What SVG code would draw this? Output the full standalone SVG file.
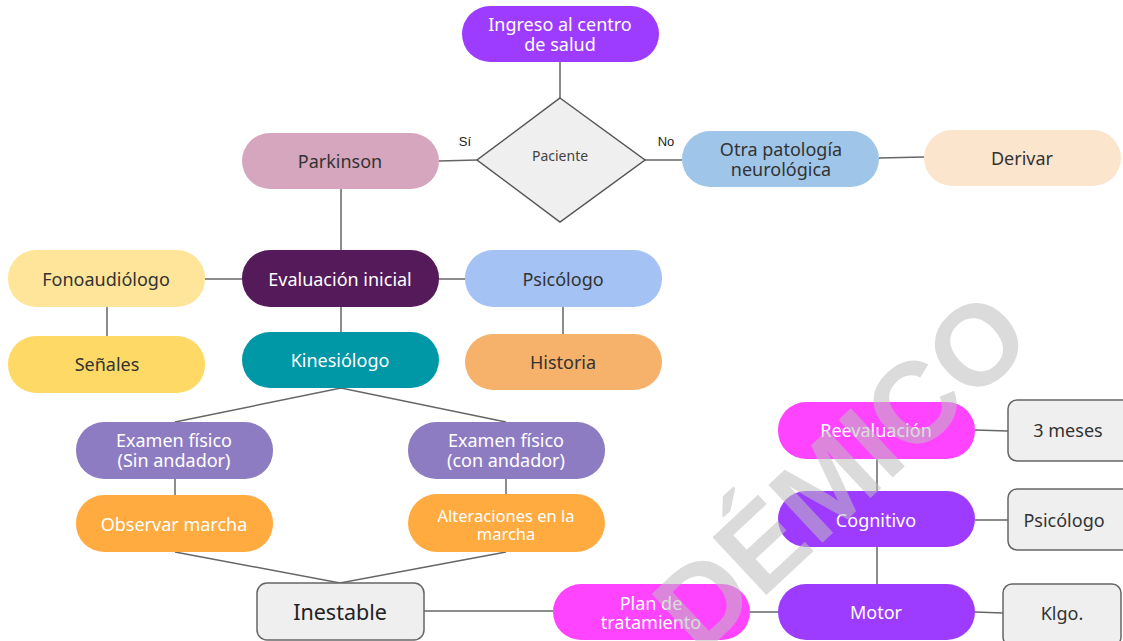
<svg xmlns="http://www.w3.org/2000/svg" width="1123" height="641" viewBox="0 0 1123 641">
<style>
text{font-family:"Noto Sans","Open Sans",sans-serif;text-anchor:middle;dominant-baseline:central}
.l{stroke:#666;stroke-width:1.5;fill:none}
.w{fill:#fff;font-size:18px}
.d{fill:#333;font-size:18px}
.box{fill:#efefef;stroke:#666;stroke-width:1.5}
.lab{font-family:"Liberation Sans",Arial,sans-serif;font-size:13px;fill:#222}
.wm{font-family:"Liberation Sans",Arial,sans-serif;font-weight:bold;font-size:115px;fill:#bdbdbd;fill-opacity:0.55;dominant-baseline:alphabetic;text-anchor:start}
</style>
<rect width="1123" height="641" fill="#fff"/>
<g id="connectors">
<path class="l" d="M560 61V98"/>
<path class="l" d="M439 161L477 160"/>
<path class="l" d="M645 160L682 160"/>
<path class="l" d="M879 158L924 157"/>
<path class="l" d="M341 189V250"/>
<path class="l" d="M205 279H242"/>
<path class="l" d="M439 279H465"/>
<path class="l" d="M107 307V336"/>
<path class="l" d="M341 307V332"/>
<path class="l" d="M563 307V334"/>
<path class="l" d="M175 422L341 388L506 422"/>
<path class="l" d="M175 479V495"/>
<path class="l" d="M506 479V494"/>
<path class="l" d="M175 552L340 583L506 552"/>
<path class="l" d="M424 611H553"/>
<path class="l" d="M750 612H778"/>
<path class="l" d="M877 459V491"/>
<path class="l" d="M877 547V584"/>
<path class="l" d="M975 430L1008 431"/>
<path class="l" d="M975 520H1008"/>
<path class="l" d="M975 612L1003 613"/>
<text class="lab" x="465" y="141">Sí</text>
<text class="lab" x="666" y="141">No</text>
</g>
<g id="ingreso"><rect x="462" y="6" width="197" height="56" rx="28" fill="#9d3cff"/><text class="w" x="560" y="24">Ingreso al centro<tspan x="560" dy="20">de salud</tspan></text></g>
<g id="paciente"><polygon points="560,98 645,160 560,222 477,160" fill="#efefef" stroke="#555" stroke-width="1.5"/><text x="560" y="155" style="font-size:14px;fill:#444">Paciente</text></g>
<g id="parkinson"><rect x="242" y="133" width="197" height="56" rx="28" fill="#d5a6bd"/><text class="d" x="340" y="161">Parkinson</text></g>
<g id="otra"><rect x="682" y="131" width="197" height="56" rx="28" fill="#9fc5e8"/><text class="d" x="781" y="149">Otra patología<tspan x="781" dy="20">neurológica</tspan></text></g>
<g id="derivar"><rect x="924" y="130" width="197" height="56" rx="28" fill="#fce5cd"/><text class="d" x="1022" y="158">Derivar</text></g>
<g id="evaluacion"><rect x="242" y="250" width="197" height="57" rx="28" fill="#541a5a"/><text class="w" x="340" y="279">Evaluación inicial</text></g>
<g id="fono"><rect x="8" y="250" width="197" height="57" rx="28" fill="#ffe599"/><text class="d" x="106" y="279">Fonoaudiólogo</text></g>
<g id="psicologo1"><rect x="465" y="250" width="197" height="57" rx="28" fill="#a4c2f4"/><text class="d" x="563" y="279">Psicólogo</text></g>
<g id="senales"><rect x="8" y="336" width="197" height="57" rx="28" fill="#ffd966"/><text class="d" x="107" y="364">Señales</text></g>
<g id="kinesiologo"><rect x="242" y="332" width="197" height="56" rx="28" fill="#0097a7"/><text class="w" x="340" y="360">Kinesiólogo</text></g>
<g id="historia"><rect x="465" y="334" width="197" height="56" rx="28" fill="#f6b26b"/><text class="d" x="563" y="362">Historia</text></g>
<g id="examen1"><rect x="76" y="422" width="197" height="57" rx="28" fill="#8e7cc3"/><text class="w" x="174" y="440">Examen físico<tspan x="174" dy="20">(Sin andador)</tspan></text></g>
<g id="examen2"><rect x="408" y="422" width="197" height="57" rx="28" fill="#8e7cc3"/><text class="w" x="506" y="440">Examen físico<tspan x="506" dy="20">(con andador)</tspan></text></g>
<g id="observar"><rect x="76" y="495" width="197" height="57" rx="28" fill="#ffab40"/><text class="w" x="174" y="524">Observar marcha</text></g>
<g id="alteraciones"><rect x="408" y="494" width="197" height="58" rx="29" fill="#ffab40"/><text class="w" x="506" y="515" style="font-size:16.5px">Alteraciones en la<tspan x="506" dy="18">marcha</tspan></text></g>
<g id="inestable"><rect class="box" x="257" y="583" width="167" height="57" rx="10"/><text x="340" y="611" style="font-size:21.5px;fill:#222">Inestable</text></g>
<g id="plan"><rect x="553" y="584" width="197" height="56" rx="28" fill="#ff44ff"/><text class="w" x="651" y="603">Plan de<tspan x="651" dy="19">tratamiento</tspan></text></g>
<g id="motor"><rect x="778" y="584" width="197" height="56" rx="28" fill="#9d3cff"/><text class="w" x="876" y="612">Motor</text></g>
<g id="cognitivo"><rect x="778" y="491" width="197" height="56" rx="28" fill="#9d3cff"/><text class="w" x="876" y="520">Cognitivo</text></g>
<g id="reevaluacion"><rect x="778" y="402" width="197" height="57" rx="28" fill="#ff44ff"/><text class="w" x="876" y="430">Reevaluación</text></g>
<g id="meses"><rect class="box" x="1008" y="400" width="125" height="61" rx="9"/><text class="d" x="1068" y="430">3 meses</text></g>
<g id="psicologo2"><rect class="box" x="1008" y="489" width="125" height="61" rx="9"/><text class="d" x="1064" y="520">Psicólogo</text></g>
<g id="klgo"><rect class="box" x="1003" y="584" width="118" height="62" rx="9"/><text class="d" x="1062" y="613">Klgo.</text></g>
<text class="wm" transform="translate(700,657) rotate(-43)">DÉMICO</text>
</svg>
